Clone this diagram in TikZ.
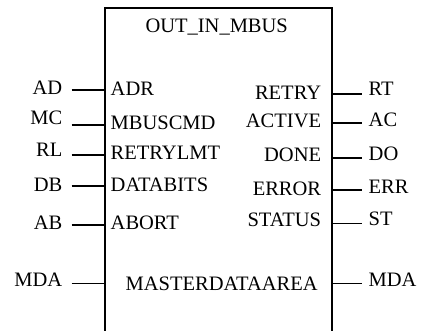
\documentclass[tikz,border=0pt]{standalone}
\usepackage{fontspec}
\setmainfont{Liberation Serif}
\begin{document}
\begin{tikzpicture}[x=1pt,y=-1pt,
  lbl/.style={inner sep=0pt,font=\fontsize{20.5}{24}\selectfont},
  lo/.style={lbl,anchor=base east},
  ro/.style={lbl,anchor=base west},
  wire/.style={line width=1.5pt},
  boxline/.style={line width=1.6pt}]
\useasboundingbox (0,0) rectangle (421,331);
% box
\coordinate (bl) at (105,332);
\coordinate (tl) at (105,8);
\coordinate (tr) at (332,8);
\coordinate (br) at (332,332);
\draw[boxline] (bl) -- (tl) -- (tr) -- (br);
\node[lbl,anchor=base] (title) at (216.7,32.6) {OUT\_IN\_MBUS};
% left outer labels
\node[lo] (ad) at (62.5,95) {AD};
\node[lo] (mc) at (62.5,124.8) {MC};
\node[lo] (rl) at (62.5,157) {RL};
\node[lo] (db) at (62.5,191.3) {DB};
\node[lo] (ab) at (62.5,229.3) {AB};
\node[lo] (mdal) at (62.5,286.8) {MDA};
% left inner labels
\node[ro] (adr) at (110.5,95.8) {ADR};
\node[ro] (mbuscmd) at (110.5,129.3) {MBUSCMD};
\node[ro] (retrylmt) at (110.5,159.3) {RETRYLMT};
\node[ro] (databits) at (110.5,191.8) {DATABITS};
\node[ro] (abort) at (110.5,229.3) {ABORT};
\node[lbl,anchor=base] (mdarea) at (221.7,291) {MASTERDATAAREA};
% right inner labels
\node[lo] (retry) at (321.3,99.3) {RETRY};
\node[lo] (active) at (321.3,127.6) {ACTIVE};
\node[lo] (done) at (321.3,161.8) {DONE};
\node[lo] (error) at (321.3,195.1) {ERROR};
\node[lo] (status) at (321.3,226.8) {STATUS};
% right outer labels
\node[ro] (rt) at (368.5,95.1) {RT};
\node[ro] (ac) at (368.5,126.8) {AC};
\node[ro] (do) at (368.5,160.1) {DO};
\node[ro] (err) at (368.5,193.5) {ERR};
\node[ro] (st) at (368.5,225.1) {ST};
\node[ro] (mdar) at (368.5,286.8) {MDA};
% left wires
\foreach \n/\y in {a/90,b/125,c/155,d/186,e/225,f/283.5}{
  \coordinate (lw\n) at (71.5,\y);
  \coordinate (lb\n) at (105,\y);
  \draw[wire] (lw\n) -- (lb\n);
}
% right wires
\foreach \n/\y in {a/94,b/123,c/158,d/190,e/223.5,f/283.5}{
  \coordinate (rb\n) at (332,\y);
  \coordinate (rw\n) at (361.7,\y);
  \draw[wire] (rb\n) -- (rw\n);
}
\end{tikzpicture}
\end{document}
